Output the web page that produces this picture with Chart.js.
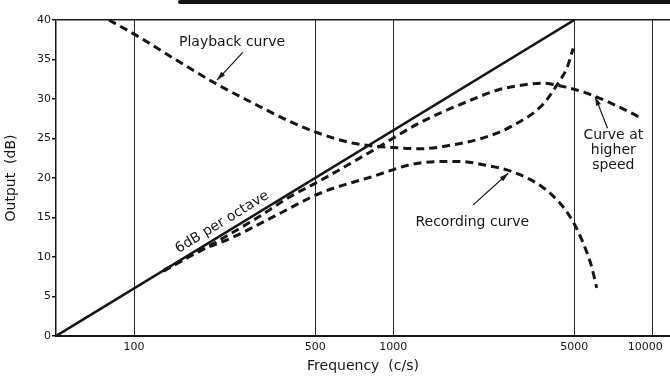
<!DOCTYPE html>
<html>
<head>
<meta charset="utf-8">
<script src="https://cdn.jsdelivr.net/npm/chart.js@4.4.1/dist/chart.umd.min.js"></script>
<style>
html, body { margin: 0; padding: 0; background: #fff; }
#wrap { position: relative; width: 670px; height: 376px; }
#rule { position: absolute; left: 178px; top: 0; width: 492px; height: 4px; background: #141414; border-radius: 2px 0 0 2px; }
</style>
</head>
<body>
<div id="wrap">
  <canvas id="chart" width="670" height="376"></canvas>
  <div id="rule"></div>
</div>
<script>
// frequency axis labels (c/s)
const freqTicks = [100, 500, 1000, 5000, 10000];

// ideal 6dB/octave line
const flatFreq = [50, 5000];
const flatOutput = [0, 40];

// playback curve
const playbackFreq = [80, 104, 143, 208, 291, 403, 503, 703, 1064, 1269, 1697, 2290, 2880, 3755, 4290, 4690, 4950];
const playbackOutput = [40, 37.9, 35.1, 31.9, 29.4, 27.1, 25.8, 24.4, 23.8, 23.7, 24.2, 25.2, 26.6, 29.2, 31.8, 34.0, 36.4];

// same system at higher tape speed
const highSpeedFreq = [130, 200, 300, 403, 525, 816, 1269, 1973, 2570, 3070, 3755, 4640, 5840, 7220, 9060];
const highSpeedOutput = [8.3, 11.6, 15.0, 17.7, 19.7, 23.3, 27.0, 29.8, 31.2, 31.7, 32.0, 31.5, 30.5, 29.2, 27.6];

// recording curve
const recordingFreq = [130, 180, 237, 350, 525, 816, 1269, 1806, 2290, 2880, 3890, 4770, 5340, 5840, 6100];
const recordingOutput = [8.2, 10.8, 12.4, 15.2, 18.1, 20.1, 21.9, 22.1, 21.6, 20.8, 18.5, 15.3, 12.2, 8.7, 6.1];

function toPoints(xs, ys) {
    return xs.map((f, i) => ({ x: f, y: ys[i] }));
}

const ink = '#161616';
const fontFamily = '"DejaVu Sans", sans-serif';

// text labels and pointer arrows, placed in data units
const notes = [
    { lines: ['Playback curve'], f: 239, db: 37.2 },
    { lines: ['Curve at', 'higher', 'speed'], f: 7070, db: 25.4 },
    { lines: ['Recording curve'], f: 2020, db: 14.4 }
];
const pointers = [
    { from: [263, 35.9], to: [209, 32.4] },
    { from: [6714, 26.3], to: [6020, 30.3] },
    { from: [2036, 16.6], to: [2780, 20.6] }
];

function drawArrow(ctx, x0, y0, x1, y1) {
    ctx.beginPath();
    ctx.moveTo(x0, y0);
    ctx.lineTo(x1, y1);
    ctx.lineWidth = 1.2;
    ctx.stroke();
    const a = Math.atan2(y1 - y0, x1 - x0);
    const len = 9, half = 2.6;
    ctx.beginPath();
    ctx.moveTo(x1, y1);
    ctx.lineTo(x1 - len * Math.cos(a) + half * Math.sin(a), y1 - len * Math.sin(a) - half * Math.cos(a));
    ctx.lineTo(x1 - len * Math.cos(a) - half * Math.sin(a), y1 - len * Math.sin(a) + half * Math.cos(a));
    ctx.closePath();
    ctx.fill();
}

const notesPlugin = {
    id: 'curveNotes',
    afterDatasetsDraw(chart) {
        const ctx = chart.ctx;
        const xs = chart.scales.x, ys = chart.scales.y;
        ctx.save();
        ctx.fillStyle = ink;
        ctx.strokeStyle = ink;
        ctx.font = '14px ' + fontFamily;
        ctx.textAlign = 'center';
        ctx.textBaseline = 'middle';

        notes.forEach(n => {
            const px = xs.getPixelForValue(n.f);
            const py = ys.getPixelForValue(n.db);
            n.lines.forEach((t, i) => ctx.fillText(t, px, py + i * 15));
        });

        pointers.forEach(p => {
            drawArrow(ctx,
                xs.getPixelForValue(p.from[0]), ys.getPixelForValue(p.from[1]),
                xs.getPixelForValue(p.to[0]), ys.getPixelForValue(p.to[1]));
        });

        // slope label follows the straight line
        const ax = xs.getPixelForValue(flatFreq[0]), ay = ys.getPixelForValue(flatOutput[0]);
        const bx = xs.getPixelForValue(flatFreq[1]), by = ys.getPixelForValue(flatOutput[1]);
        ctx.translate(xs.getPixelForValue(219), ys.getPixelForValue(14.4));
        ctx.rotate(Math.atan2(by - ay, bx - ax));
        ctx.fillText('6dB per octave', 0, 0);
        ctx.restore();
    }
};

const dashed = {
    borderColor: ink,
    borderWidth: 3,
    borderDash: [8, 5],
    pointRadius: 0,
    cubicInterpolationMode: 'monotone',
    fill: false
};

new Chart(document.getElementById('chart'), {
    type: 'line',
    data: {
        datasets: [
            { label: '6dB per octave', data: toPoints(flatFreq, flatOutput), borderColor: ink, borderWidth: 2.6, pointRadius: 0 },
            Object.assign({ label: 'Playback curve', data: toPoints(playbackFreq, playbackOutput) }, dashed),
            Object.assign({ label: 'Curve at higher speed', data: toPoints(highSpeedFreq, highSpeedOutput) }, dashed),
            Object.assign({ label: 'Recording curve', data: toPoints(recordingFreq, recordingOutput) }, dashed)
        ]
    },
    options: {
        responsive: false,
        animation: false,
        layout: { padding: { top: 20, right: 0, left: 0, bottom: 0 } },
        plugins: {
            legend: { display: false },
            tooltip: { enabled: false }
        },
        scales: {
            x: {
                type: 'logarithmic',
                min: 50,
                max: 11700,
                afterBuildTicks: scale => { scale.ticks = freqTicks.map(v => ({ value: v })); },
                afterFit: scale => { scale.height = 40; scale.paddingLeft = 0; scale.paddingRight = 0; },
                ticks: {
                    autoSkip: false,
                    maxRotation: 0,
                    padding: 5,
                    color: ink,
                    font: { family: fontFamily, size: 11 },
                    callback: v => v === 10000 ? '10000    ' : String(v)
                },
                grid: { color: '#2a2a2a', lineWidth: 1, drawTicks: false },
                border: { color: ink, width: 2 },
                title: {
                    display: true,
                    text: 'Frequency  (c/s)',
                    color: ink,
                    font: { family: fontFamily, size: 14 },
                    padding: { top: 0, bottom: 1 }
                }
            },
            y: {
                min: 0,
                max: 40,
                afterFit: scale => { scale.width = 56; scale.paddingTop = 0; scale.paddingBottom = 0; },
                ticks: {
                    stepSize: 5,
                    padding: 1,
                    color: ink,
                    font: { family: fontFamily, size: 11 }
                },
                grid: {
                    color: c => c.tick && c.tick.value === 40 ? ink : 'rgba(0,0,0,0)',
                    tickColor: ink,
                    tickLength: 4,
                    lineWidth: 1.5
                },
                border: { color: ink, width: 1.5 },
                title: {
                    display: true,
                    text: 'Output  (dB)',
                    color: ink,
                    font: { family: fontFamily, size: 14 },
                    padding: { top: 3, bottom: 0 }
                }
            }
        }
    },
    plugins: [notesPlugin]
});
</script>
</body>
</html>
